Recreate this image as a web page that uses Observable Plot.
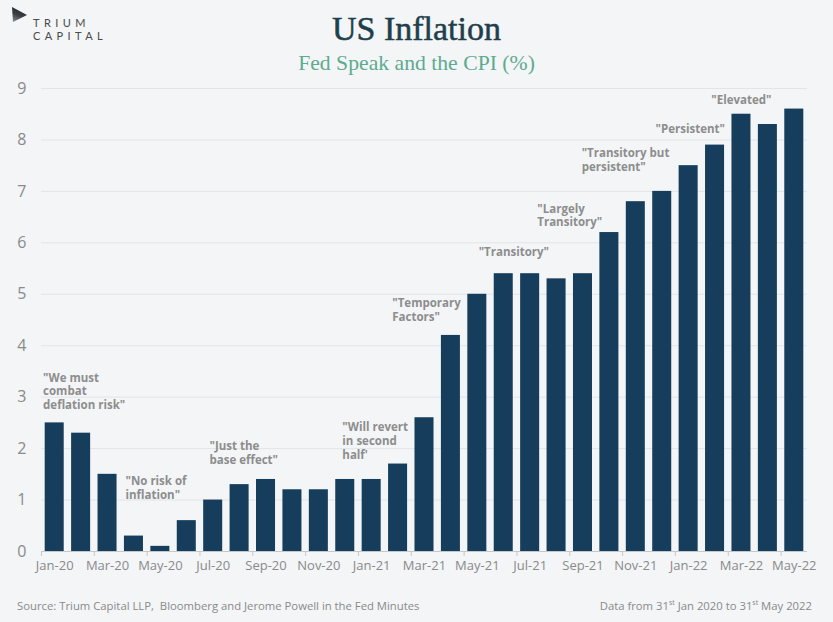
<!DOCTYPE html>
<html><head><meta charset="utf-8">
<script src="https://cdn.jsdelivr.net/npm/d3@7"></script>
<script src="https://cdn.jsdelivr.net/npm/@observablehq/plot@0.6"></script>
<style>
html,body{margin:0;padding:0;background:#f3f5f7;}
#wrap{position:relative;width:833px;height:622px;overflow:hidden;background:#f3f5f7;}
#header{position:relative;height:72px;}
#logo{position:absolute;left:11px;top:6px;width:17px;height:17px;
  clip-path:polygon(1px 1px,16px 9px,2px 16px);
  background:linear-gradient(200deg,#1c1f22 0%,#3a3f44 55%,#9aa0a6 100%);}
.brand{position:absolute;left:33px;font-family:Lato,"Noto Sans",sans-serif;font-size:11px;line-height:11px;letter-spacing:4.4px;color:#4a4a4a;}
#title{position:absolute;left:0;width:833px;top:12px;text-align:center;font-family:"Liberation Serif",serif;font-size:34px;line-height:34px;color:#1e3f4b;-webkit-text-stroke:0.5px #1e3f4b;}
#subtitle{position:absolute;left:0;width:833px;top:54.5px;text-align:center;font-family:"Liberation Serif",serif;font-size:21.7px;line-height:17px;color:#5dab8f;z-index:1;}
#chart{position:relative;}
#chart svg{display:block;}
.foot{position:absolute;top:598px;height:16px;line-height:16px;font-family:"Open Sans",sans-serif;font-size:11.3px;color:#8a8a8a;white-space:nowrap;}
.foot sup{font-size:7px;line-height:0;vertical-align:5px;}
</style></head><body>
<div id="wrap">
  <div id="header">
    <div id="logo"></div>
    <div class="brand" style="top:17px">TRIUM</div>
    <div class="brand" style="top:30px">CAPITAL</div>
    <div id="title">US Inflation</div>
    <div id="subtitle">Fed Speak and the CPI (%)</div>
  </div>
  <div id="chart"></div>
  <div class="foot" style="left:17px">Source: Trium Capital LLP,&nbsp; Bloomberg and Jerome Powell in the Fed Minutes</div>
  <div class="foot" style="right:21px">Data from 31<sup>st</sup> Jan 2020 to 31<sup>st</sup> May 2022</div>
</div>
<script>
const months = ["Jan-20","Feb-20","Mar-20","Apr-20","May-20","Jun-20","Jul-20","Aug-20","Sep-20","Oct-20","Nov-20","Dec-20",
  "Jan-21","Feb-21","Mar-21","Apr-21","May-21","Jun-21","Jul-21","Aug-21","Sep-21","Oct-21","Nov-21","Dec-21",
  "Jan-22","Feb-22","Mar-22","Apr-22","May-22"];
const cpi = [2.5,2.3,1.5,0.3,0.1,0.6,1.0,1.3,1.4,1.2,1.2,1.4,1.4,1.7,2.6,4.2,5.0,5.4,5.4,5.3,5.4,6.2,6.8,7.0,7.5,7.9,8.5,8.3,8.6];
const yTicks = [0,1,2,3,4,5,6,7,8,9];
const xTickLabels = months.filter((d, i) => i % 2 === 0);

const quoteText = [
  "\"We must\ncombat\ndeflation risk\"",
  "\"No risk of\ninflation\"",
  "\"Just the\nbase effect\"",
  "\"Will revert\nin second\nhalf'",
  "\"Temporary\nFactors\"",
  "\"Transitory\"",
  "\"Largely\nTransitory\"",
  "\"Transitory but\npersistent\"",
  "\"Persistent\"",
  "\"Elevated\""
];
// where each quote starts, in months from Jan-20 (fractional), and the CPI level at its centre
const quoteStart = [0.06, 3.18, 6.36, 11.39, 13.28, 16.55, 18.77, 20.45, 23.25, 25.36];
const quoteLevel = [3.12, 1.25, 1.93, 2.16, 4.70, 5.83, 6.54, 7.62, 8.23, 8.79];

const W = 833, H = 513, mL = 41, mR = 26, mT = 16, mB = 34;
const step = (W - mL - mR) / months.length;

const data = months.map((m, i) => ({month: m, cpi: cpi[i]}));

const quoteMarks = quoteText.map((t, i) => {
  const k = Math.floor(quoteStart[i]);
  return Plot.text([{month: months[k], level: quoteLevel[i], text: t}], {
    x: "month", y: "level", text: "text",
    textAnchor: "start", lineAnchor: "middle", lineHeight: 1.2,
    dx: (quoteStart[i] - k - 0.5) * step,
    fontFamily: "Open Sans", fontWeight: "bold", fontSize: 11.5, fill: "#8d8d8d"
  });
});

const chart = Plot.plot({
  width: W, height: H,
  marginLeft: mL, marginRight: mR, marginTop: mT, marginBottom: mB,
  style: {background: "transparent", fontFamily: "Open Sans", color: "#8a8a8a"},
  x: {type: "band", domain: months, paddingInner: 0.28, paddingOuter: 0.14, round: false, axis: null},
  y: {domain: [0, 9], axis: null},
  marks: [
    Plot.gridY(yTicks.slice(1), {stroke: "#e2e5e8", strokeOpacity: 1}),
    Plot.barY(data, {x: "month", y: "cpi", fill: "#163e5c"}),
    Plot.ruleY([0], {stroke: "#c5c8cb"}),
    Plot.axisX(xTickLabels, {tickSize: 5, dx: -step / 2, tickFormat: () => "", stroke: "#c5c8cb", label: null}),
    Plot.axisX(xTickLabels, {tickSize: 0, tickPadding: 9, fontSize: 13, fill: "#8a8a8a", label: null}),
    Plot.axisY(yTicks, {tickSize: 0, tickPadding: 15, fontSize: 16, fill: "#8a8a8a", tickFormat: "d", label: null}),
    ...quoteMarks
  ]
});
document.getElementById("chart").appendChild(chart);
</script>
</body></html>
